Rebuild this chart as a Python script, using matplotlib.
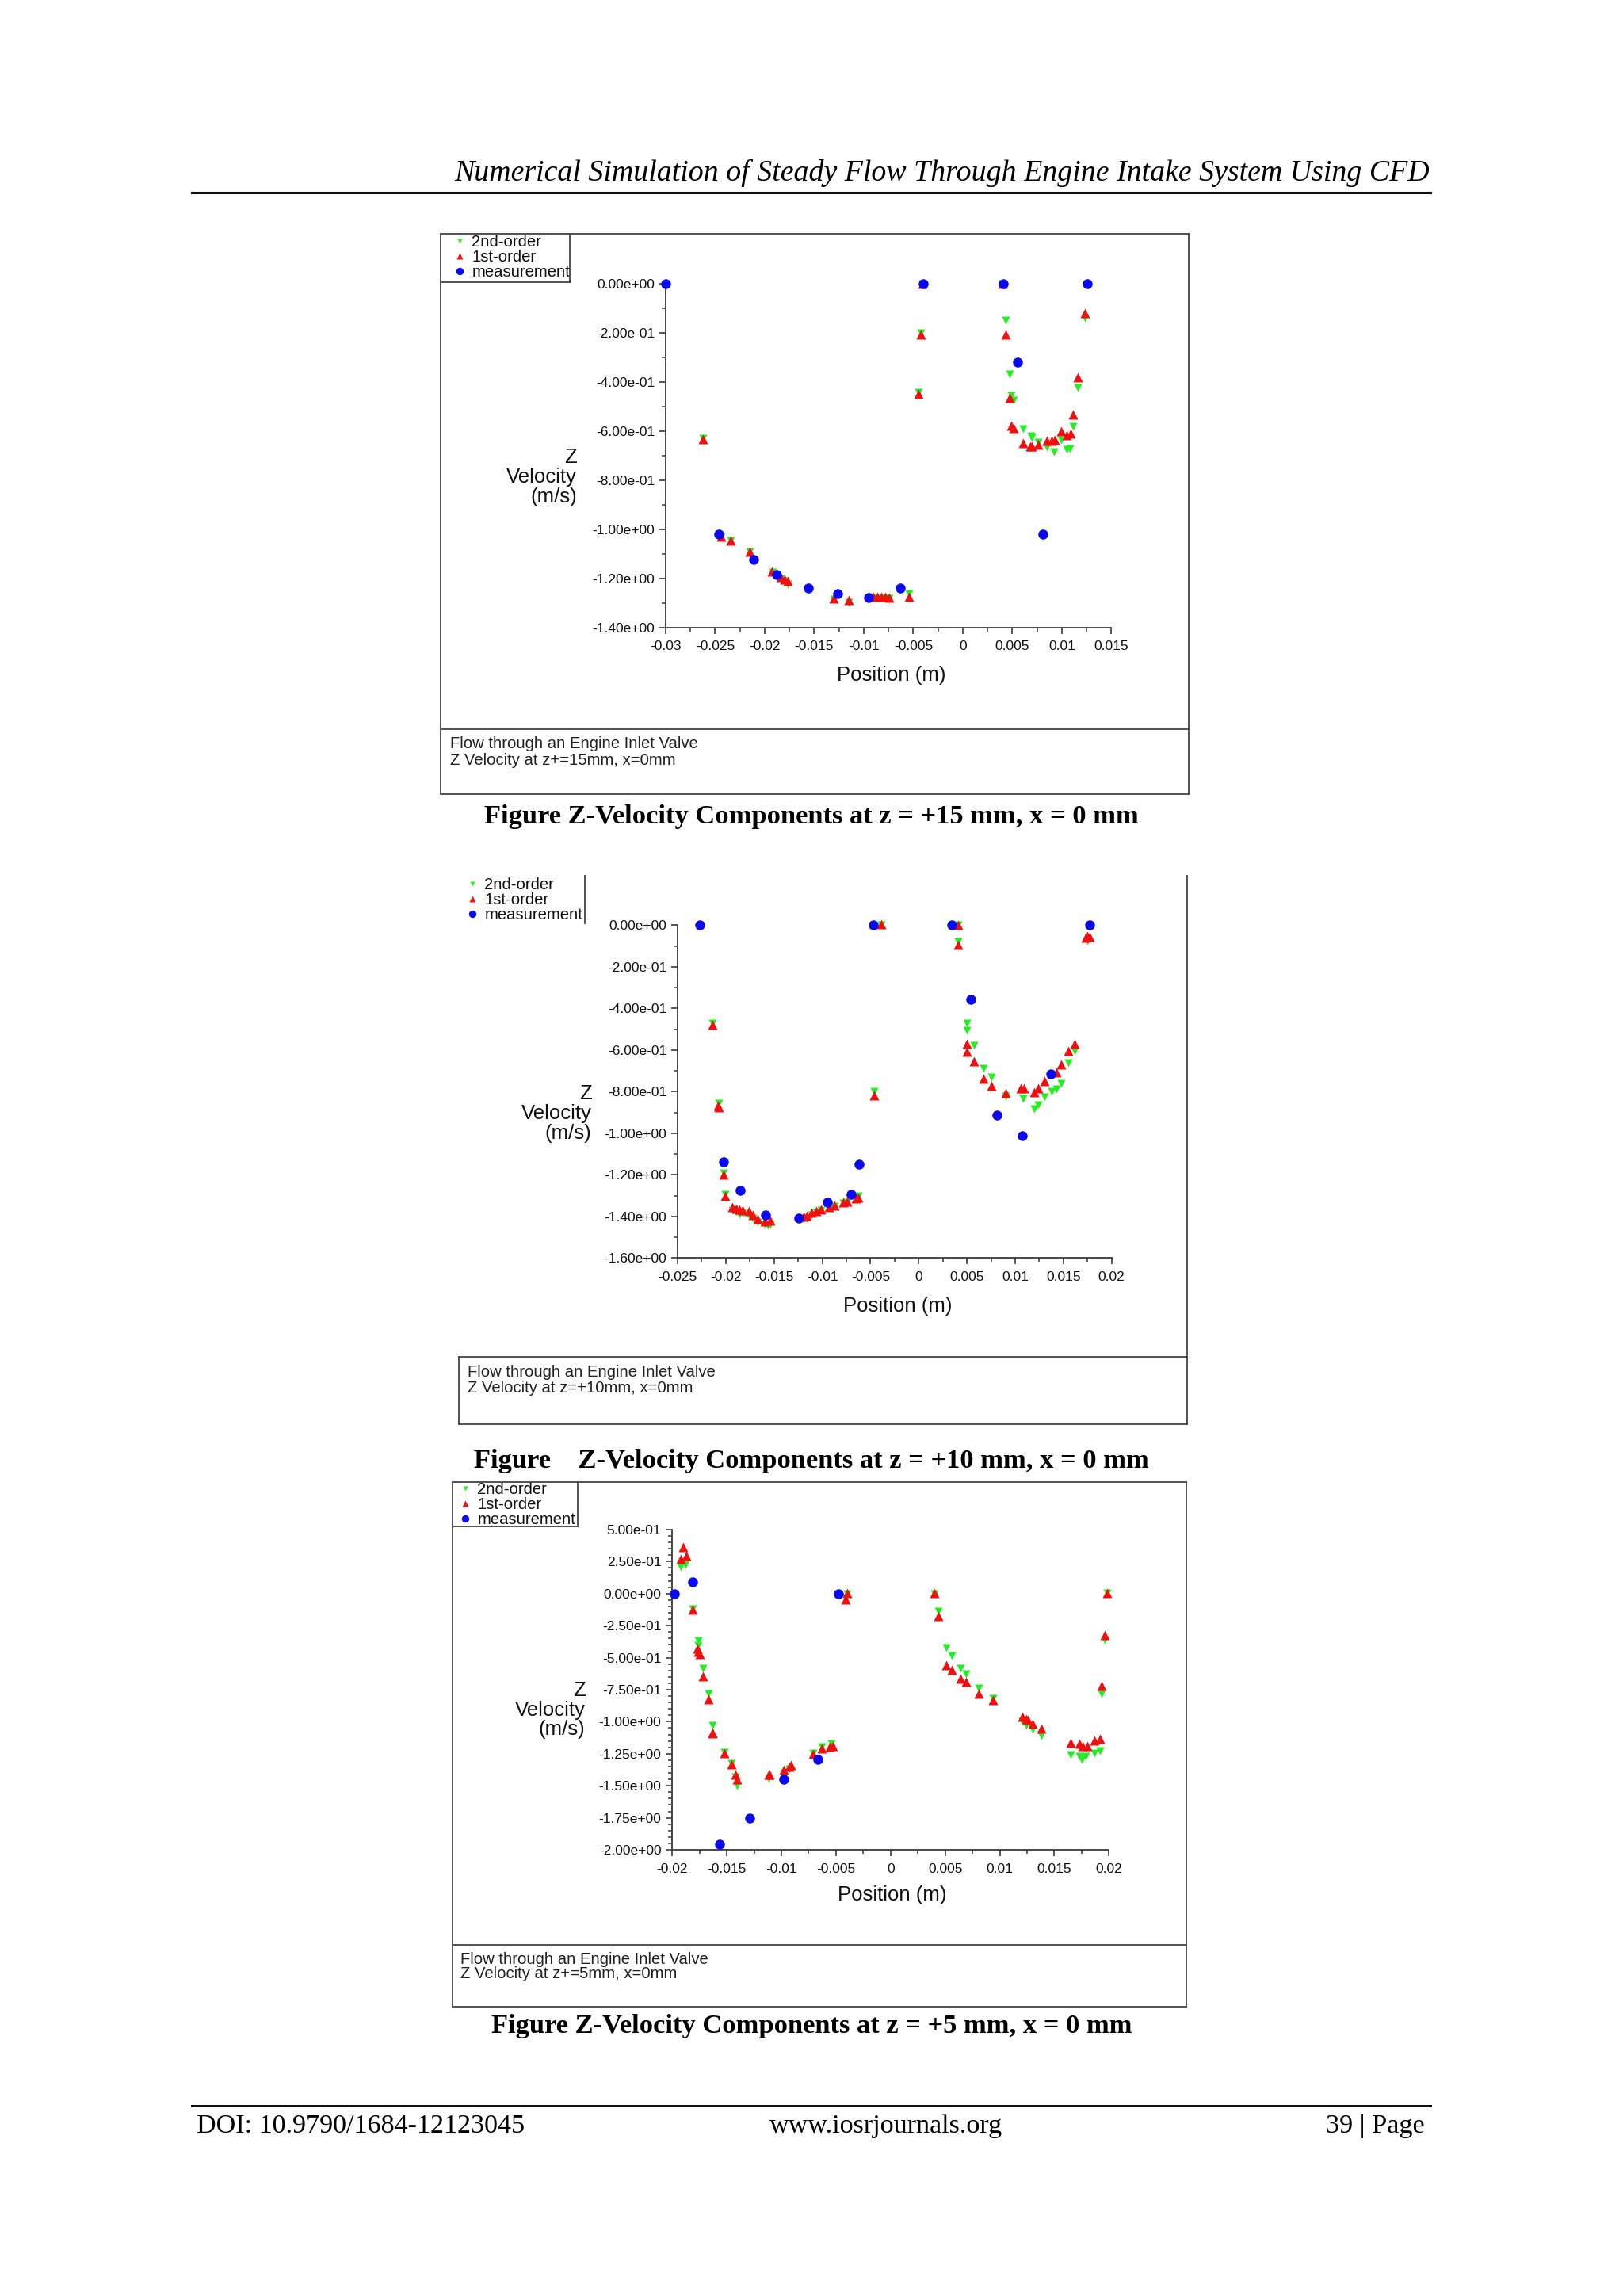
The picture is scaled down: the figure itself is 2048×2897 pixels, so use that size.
import matplotlib
matplotlib.use("Agg")
import matplotlib.pyplot as plt
from matplotlib.lines import Line2D
from matplotlib.ticker import MultipleLocator, FuncFormatter

plt.rcParams['font.family'] = ['Liberation Sans', 'DejaVu Sans']

# ---------------- data: z = +15 mm ----------------
meas15_x = [-0.0300, -0.0246, -0.0211, -0.0188, -0.0156, -0.0126, -0.0095, -0.0063, -0.0040, 0.0041, 0.0055, 0.0081, 0.0126]
meas15_y = [0.000, -1.020, -1.122, -1.185, -1.241, -1.261, -1.277, -1.241, 0.000, 0.000, -0.319, -1.020, 0.000]
first15_x = [-0.0262, -0.0244, -0.0234, -0.0215, -0.0193, -0.0184, -0.0180, -0.0177, -0.0130, -0.0115, -0.0090, -0.0086, -0.0082,
             -0.0078, -0.0074, -0.0054, -0.0042, -0.0045, -0.0041, 0.0040, 0.0043, 0.0047, 0.0049, 0.0051, 0.0061, 0.0068, 0.0070,
             0.0076, 0.0085, 0.0090, 0.0093, 0.0099, 0.0105, 0.0109, 0.0111, 0.0116, 0.0123]
first15_y = [-0.633, -1.031, -1.046, -1.091, -1.171, -1.195, -1.203, -1.211, -1.281, -1.289, -1.276, -1.276, -1.276,
             -1.276, -1.278, -1.276, -0.205, -0.449, 0.000, 0.000, -0.205, -0.465, -0.576, -0.587, -0.648, -0.662, -0.662,
             -0.654, -0.639, -0.639, -0.635, -0.601, -0.617, -0.608, -0.531, -0.380, -0.118]
second15_x = [-0.0262, -0.0244, -0.0234, -0.0215, -0.0192, -0.0184, -0.0180, -0.0177, -0.0130, -0.0115, -0.0090, -0.0086, -0.0082,
              -0.0078, -0.0074, -0.0054, -0.0042, -0.0045, -0.0041, 0.0040, 0.0043, 0.0047, 0.0049, 0.0051, 0.0061, 0.0069,
              0.0070, 0.0076, 0.0085, 0.0092, 0.0099, 0.0105, 0.0108, 0.0111, 0.0116, 0.0123]
second15_y = [-0.628, -1.028, -1.045, -1.092, -1.176, -1.200, -1.210, -1.224, -1.285, -1.298, -1.280, -1.281, -1.281,
              -1.280, -1.281, -1.263, -0.200, -0.443, 0.000, 0.000, -0.148, -0.366, -0.454, -0.474, -0.590, -0.619,
              -0.625, -0.646, -0.664, -0.684, -0.635, -0.675, -0.670, -0.582, -0.422, -0.138]

# ---------------- data: z = +10 mm ----------------
meas10_x = [-0.0227, -0.0202, -0.0185, -0.0159, -0.0124, -0.0095, -0.0070, -0.0062, -0.0047, 0.0034, 0.0054, 0.0081, 0.0107, 0.0137, 0.0177]
meas10_y = [0.000, -1.137, -1.276, -1.392, -1.407, -1.333, -1.295, -1.150, 0.000, 0.000, -0.356, -0.912, -1.011, -0.715, 0.000]
first10_x = [-0.0214, -0.0208, -0.0207, -0.0202, -0.0201, -0.0193, -0.0189, -0.0186, -0.0183, -0.0176, -0.0172, -0.0167,
             -0.0160, -0.0154, -0.0119, -0.0116, -0.0111, -0.0106, -0.0101, -0.0093, -0.0087, -0.0078, -0.0074, -0.0065,
             -0.0063, -0.0046, -0.0039, 0.0041, 0.0041, 0.0050, 0.0050, 0.0057, 0.0067, 0.0075, 0.0090, 0.0106, 0.0109,
             0.0120, 0.0124, 0.0130, 0.0143, 0.0148, 0.0155, 0.0162, 0.0173, 0.0175, 0.0177]
first10_y = [-0.477, -0.867, -0.874, -1.200, -1.302, -1.356, -1.363, -1.366, -1.371, -1.375, -1.394, -1.411,
             -1.422, -1.420, -1.401, -1.397, -1.382, -1.373, -1.365, -1.356, -1.346, -1.331, -1.328, -1.312,
             -1.308, -0.817, 0.005, 0.003, -0.093, -0.569, -0.610, -0.654, -0.738, -0.772, -0.808, -0.782, -0.782,
             -0.801, -0.782, -0.749, -0.709, -0.670, -0.603, -0.569, -0.061, -0.052, -0.057]
second10_x = [-0.0214, -0.0207, -0.0202, -0.0201, -0.0193, -0.0189, -0.0186, -0.0183, -0.0176, -0.0172, -0.0167, -0.0160,
              -0.0156, -0.0154, -0.0119, -0.0116, -0.0111, -0.0106, -0.0101, -0.0093, -0.0087, -0.0078, -0.0074, -0.0065,
              -0.0063, -0.0046, -0.0039, 0.0041, 0.0041, 0.0050, 0.0050, 0.0057, 0.0067, 0.0075, 0.0090, 0.0108, 0.0120,
              0.0124, 0.0130, 0.0138, 0.0143, 0.0148, 0.0155, 0.0162, 0.0175]
second10_y = [-0.470, -0.855, -1.190, -1.295, -1.372, -1.378, -1.388, -1.384, -1.392, -1.408, -1.428, -1.438,
              -1.442, -1.438, -1.414, -1.408, -1.392, -1.380, -1.370, -1.360, -1.350, -1.336, -1.332, -1.316,
              -1.300, -0.800, 0.000, 0.000, -0.080, -0.470, -0.505, -0.578, -0.690, -0.730, -0.823, -0.833, -0.884,
              -0.863, -0.827, -0.797, -0.787, -0.759, -0.662, -0.603, -0.076]

# ---------------- data: z = +5 mm ----------------
meas5_x = [-0.0198, -0.0181, -0.0157, -0.0129, -0.0098, -0.0067, -0.0048]
meas5_y = [0.000, 0.093, -1.958, -1.751, -1.448, -1.293, 0.000]
first5_x = [-0.0192, -0.0190, -0.0187, -0.0181, -0.0177, -0.0176, -0.0175, -0.0172, -0.0167, -0.0163, -0.0163, -0.0152,
            -0.0146, -0.0142, -0.0141, -0.0112, -0.0111, -0.0098, -0.0093, -0.0091, -0.0071, -0.0063, -0.0056, -0.0053,
            -0.0041, -0.0040, 0.0040, 0.0044, 0.0051, 0.0056, 0.0064, 0.0069, 0.0081, 0.0094, 0.0121, 0.0124, 0.0126,
            0.0130, 0.0138, 0.0165, 0.0173, 0.0176, 0.0180, 0.0187, 0.0192, 0.0193, 0.0196, 0.0198]
first5_y = [0.274, 0.363, 0.297, -0.126, -0.427, -0.452, -0.472, -0.644, -0.827, -1.083, -1.091, -1.242,
            -1.333, -1.411, -1.448, -1.411, -1.411, -1.376, -1.349, -1.339, -1.252, -1.205, -1.194, -1.190,
            -0.045, 0.002, 0.002, -0.177, -0.561, -0.596, -0.662, -0.689, -0.778, -0.833, -0.963, -0.978, -0.988,
            -1.013, -1.056, -1.165, -1.170, -1.190, -1.190, -1.149, -1.132, -0.716, -0.324, 0.006]
second5_x = [-0.0192, -0.0188, -0.0181, -0.0176, -0.0176, -0.0172, -0.0167, -0.0163, -0.0152, -0.0146, -0.0142, -0.0141,
             -0.0112, -0.0098, -0.0093, -0.0071, -0.0063, -0.0054, -0.0041, -0.0040, 0.0040, 0.0044, 0.0051, 0.0056,
             0.0064, 0.0069, 0.0081, 0.0094, 0.0121, 0.0124, 0.0130, 0.0138, 0.0165, 0.0173, 0.0175, 0.0179, 0.0187,
             0.0192, 0.0193, 0.0196, 0.0198]
second5_y = [0.208, 0.225, -0.118, -0.365, -0.404, -0.586, -0.782, -1.029, -1.236, -1.328, -1.432, -1.500,
             -1.442, -1.401, -1.370, -1.246, -1.198, -1.170, -0.035, 0.000, 0.000, -0.136, -0.421, -0.483,
             -0.582, -0.627, -0.736, -0.817, -0.998, -1.029, -1.060, -1.112, -1.260, -1.267, -1.293, -1.267, -1.242,
             -1.225, -0.778, -0.359, 0.006]

series_labels = ["2nd-order", "1st-order", "measurement"]
caption_lines = [
    ["Flow through an Engine Inlet Valve", "Z Velocity at z+=15mm, x=0mm"],
    ["Flow through an Engine Inlet Valve", "Z Velocity at z=+10mm, x=0mm"],
    ["Flow through an Engine Inlet Valve", "Z Velocity at z+=5mm, x=0mm"],
]
figure_captions = [
    "Figure Z-Velocity Components at z = +15 mm, x = 0 mm",
    "Figure    Z-Velocity Components at z = +10 mm, x = 0 mm",
    "Figure Z-Velocity Components at z = +5 mm, x = 0 mm",
]
header_text = "Numerical Simulation of Steady Flow Through Engine Intake System Using CFD"
footer_left = "DOI: 10.9790/1684-12123045"
footer_mid = "www.iosrjournals.org"
footer_right = "39 | Page"

# ---------------- figure ----------------
W, H = 2048, 2897
fig = plt.figure(figsize=(W / 100, H / 100), dpi=100)
fig.patch.set_facecolor('white')

GREEN = '#22ee22'
RED = '#f01010'
BLUE = '#0a0af0'
AXC = '#3a3a3a'
BOXC = '#444444'


def fx(x):
    return x / W


def fy(y):
    return 1 - y / H


def hline(x0, x1, y, lw=1.3, color=BOXC):
    fig.add_artist(Line2D([fx(x0), fx(x1)], [fy(y), fy(y)], transform=fig.transFigure, color=color, lw=lw))


def vline(x, y0, y1, lw=1.3, color=BOXC):
    fig.add_artist(Line2D([fx(x), fx(x)], [fy(y0), fy(y1)], transform=fig.transFigure, color=color, lw=lw))


def xfmt(v, _):
    if abs(v) < 1e-12:
        return '0'
    return '%g' % round(v, 6)


def yfmt(v, _):
    if abs(v) < 1e-12:
        v = 0.0
    return '%.2e' % v


def make_panel(rect, xlim, ylim, ymaj, ymin, sx, sy, sm, ylab_xy, xlab_xy, leg_xy):
    l, t, r, b = rect
    ax = fig.add_axes([fx(l), fy(b), (r - l) / W, (b - t) / H])
    ax.patch.set_alpha(0)
    for s in ['top', 'right']:
        ax.spines[s].set_visible(False)
    for s in ['left', 'bottom']:
        ax.spines[s].set_color(AXC)
        ax.spines[s].set_linewidth(1.3)
    ax.set_xlim(*xlim)
    ax.set_ylim(*ylim)
    ax.xaxis.set_major_locator(MultipleLocator(0.005))
    ax.xaxis.set_minor_locator(MultipleLocator(0.0025))
    ax.yaxis.set_major_locator(MultipleLocator(ymaj))
    ax.yaxis.set_minor_locator(MultipleLocator(ymin))
    ax.xaxis.set_major_formatter(FuncFormatter(xfmt))
    ax.yaxis.set_major_formatter(FuncFormatter(yfmt))
    ax.tick_params(axis='both', which='major', direction='out', length=6, width=1.2, color=AXC,
                   labelsize=12.5, labelcolor='#111111')
    ax.tick_params(axis='both', which='minor', direction='out', length=3.5, width=1.1, color=AXC)
    ax.tick_params(axis='y', which='major', pad=4)
    ax.tick_params(axis='x', which='major', pad=6)

    h2, = ax.plot(sx[0], sx[1], linestyle='none', marker='v', ms=6.6, mfc=GREEN, mec='none',
                  zorder=3, clip_on=False, label=series_labels[0])
    h1, = ax.plot(sy[0], sy[1], linestyle='none', marker='^', ms=8.4, mfc=RED, mec='none',
                  zorder=4, clip_on=False, label=series_labels[1])
    h0, = ax.plot(sm[0], sm[1], linestyle='none', marker='o', ms=9.0, mfc=BLUE, mec='none',
                  zorder=5, clip_on=False, label=series_labels[2])

    fig.text(fx(ylab_xy[0]), fy(ylab_xy[1]), "Z\nVelocity\n(m/s)", ha='right', va='center',
             multialignment='right', fontsize=18.5, linespacing=1.05, color='#111111')
    fig.text(fx(xlab_xy[0]), fy(xlab_xy[1]), "Position (m)", ha='center', va='center',
             fontsize=18.5, color='#111111')

    leg = ax.legend(handles=[h2, h1, h0], labels=series_labels, loc='upper left',
                    bbox_to_anchor=(fx(leg_xy[0]), fy(leg_xy[1])), bbox_transform=fig.transFigure,
                    frameon=False, fontsize=14.6, handlelength=0.8, handletextpad=0.35,
                    labelspacing=0.0, borderpad=0.0, borderaxespad=0.0, markerscale=0.75)
    for txt in leg.get_texts():
        txt.set_color('#111111')
    return ax


# ---- Panel 1 (z=+15mm) ----
make_panel((840, 358.3, 1402.3, 791.7), (-0.03, 0.015), (-1.4, 0.0), 0.2, 0.1,
           (second15_x, second15_y), (first15_x, first15_y), (meas15_x, meas15_y),
           (728, 602), (1125, 852), (572, 296))
# outer box & legend box
hline(556, 1500, 295); hline(556, 1500, 1002); vline(556, 295, 1002); vline(1500, 295, 1002)
hline(556, 1500, 920)
hline(556, 719, 356); vline(719, 295, 356)
fig.text(fx(568), fy(939), caption_lines[0][0], ha='left', va='center', fontsize=14.6, color='#222222')
fig.text(fx(568), fy(959.5), caption_lines[0][1], ha='left', va='center', fontsize=14.6, color='#222222')

# ---- Panel 2 (z=+10mm) ----
make_panel((855, 1167.3, 1402.7, 1587.3), (-0.025, 0.02), (-1.6, 0.0), 0.2, 0.1,
           (second10_x, second10_y), (first10_x, first10_y), (meas10_x, meas10_y),
           (746.6, 1405), (1133, 1648), (588, 1107))
vline(1498, 1105, 1797)
vline(737.5, 1105, 1165)
hline(579, 1498, 1712); hline(579, 1498, 1797); vline(579, 1712, 1797)
fig.text(fx(590), fy(1731.7), caption_lines[1][0], ha='left', va='center', fontsize=14.6, color='#222222')
fig.text(fx(590), fy(1751.4), caption_lines[1][1], ha='left', va='center', fontsize=14.6, color='#222222')

# ---- Panel 3 (z=+5mm) ----
make_panel((848.3, 1930, 1399.3, 2334), (-0.02, 0.02), (-2.0, 0.5), 0.25, 0.05,
           (second5_x, second5_y), (first5_x, first5_y), (meas5_x, meas5_y),
           (738.4, 2157.5), (1126, 2391), (579, 1870))
hline(571, 1497, 1870); hline(571, 1497, 2532); vline(571, 1870, 2532); vline(1497, 1870, 2532)
hline(571, 1497, 2454)
hline(571, 729, 1926); vline(729, 1870, 1926)
fig.text(fx(581), fy(2473), caption_lines[2][0], ha='left', va='center', fontsize=14.6, color='#222222')
fig.text(fx(581), fy(2491), caption_lines[2][1], ha='left', va='center', fontsize=14.6, color='#222222')

# ---- figure captions ----
serif = ['Liberation Serif', 'DejaVu Serif']
fig.text(fx(1024), fy(1031), figure_captions[0], ha='center', va='center', fontsize=24.8,
         fontweight='bold', family=serif)
fig.text(fx(1024), fy(1843), figure_captions[1], ha='center', va='center', fontsize=24.8,
         fontweight='bold', family=serif)
fig.text(fx(1024), fy(2556), figure_captions[2], ha='center', va='center', fontsize=24.8,
         fontweight='bold', family=serif)

# ---- header & footer ----
fig.text(fx(1804), fy(218), header_text, ha='right', va='center', fontsize=27.3, style='italic', family=serif)
hline(242, 1805, 243, lw=2.2, color='#111111')
hline(242, 1805, 2657, lw=2.2, color='#111111')
fig.text(fx(248), fy(2683), footer_left, ha='left', va='center', fontsize=24.6, family=serif)
fig.text(fx(1118), fy(2683), footer_mid, ha='center', va='center', fontsize=24.6, family=serif)
fig.text(fx(1798), fy(2683), footer_right, ha='right', va='center', fontsize=24.6, family=serif)

fig.savefig("out.png", dpi=100, facecolor='white')
